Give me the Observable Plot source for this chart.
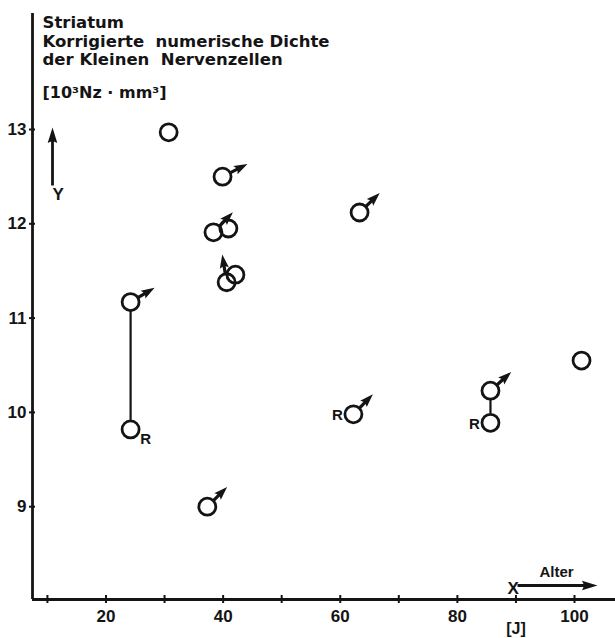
<!DOCTYPE html>
<html>
<head>
<meta charset="utf-8">
<script src="https://cdn.jsdelivr.net/npm/d3@7"></script>
<script src="https://cdn.jsdelivr.net/npm/@observablehq/plot@0.6"></script>
<style>
  html, body { margin: 0; padding: 0; background: #fff; }
</style>
</head>
<body>
<div id="chart"></div>
<script>
// Striatum: corrected numerical density of small nerve cells vs. age
const titleLines = ["Striatum", "Korrigierte  numerische Dichte", "der Kleinen  Nervenzellen", "[10³Nz · mm³]"];

// age in years, density in 10³ cells per mm³
const age     = [30.7, 39.9, 38.35, 40.9, 40.6, 42.1, 24.2, 24.2, 37.3, 63.3, 62.25, 85.65, 85.65, 101.2];
const density = [12.97, 12.50, 11.91, 11.95, 11.38, 11.46, 11.17, 9.82, 9.00, 12.12, 9.98, 10.23, 9.89, 10.55];
// direction of the male-sign arrow (degrees clockwise from north); null = no arrow
const maleArrow = [null, 63, 44, null, -9, null, 59, null, 45, 46, 44, 48, null, null];
// "R" marks
const note = ["", "", "", "", "", "", "", "R", "", "", "R", "", "R", ""];
// paired measurements joined by a vertical line
const pairAge   = [24.2, 85.65];
const pairLow   = [9.82, 9.89];
const pairHigh  = [11.17, 10.23];

const xTicks = [10, 20, 30, 40, 50, 60, 70, 80, 90, 100];
const yTicks = [9, 10, 11, 12, 13];
const xDomain = [7.45, 107];
const yDomain = [8.016, 14.23];

const points = age.map((a, i) => ({age: a, density: density[i], arrow: maleArrow[i], note: note[i]}));
const pairs = pairAge.map((a, i) => ({age: a, low: pairLow[i], high: pairHigh[i]}));

// an arrow pointing up (north) from distance `start` to `start + len` from the anchor, with a filled head
function arrowSymbol(start, len, head, headHalf, shaftHalf) {
  return {
    draw(ctx) {
      const tip = -(start + len), base = tip + head;
      ctx.moveTo(-shaftHalf, -start);
      ctx.lineTo(-shaftHalf, base);
      ctx.lineTo(-headHalf, base + 1.5);
      ctx.lineTo(0, tip);
      ctx.lineTo(headHalf, base + 1.5);
      ctx.lineTo(shaftHalf, base);
      ctx.lineTo(shaftHalf, -start);
      ctx.closePath();
    }
  };
}

const ink = "#141414";
const font = "'DejaVu Sans', sans-serif";
const numFont = "'Liberation Sans', Arial, sans-serif";

const chart = Plot.plot({
  width: 615,
  height: 638,
  marginLeft: 32,
  marginRight: 0,
  marginTop: 13,
  marginBottom: 39,
  x: {domain: xDomain},
  y: {domain: yDomain},
  style: {fontFamily: font, color: ink, background: "#fff"},
  marks: [
    // axis lines
    Plot.ruleX([xDomain[0]], {stroke: ink, strokeWidth: 2.8}),
    Plot.ruleY([yDomain[0]], {stroke: ink, strokeWidth: 2.8}),
    Plot.axisY({ticks: yTicks, anchor: "left", tickSize: 6, dx: 3, tickPadding: 3, label: null,
      tickFormat: d => String(d),
      fontSize: 17, fontWeight: "bold", fontFamily: numFont, strokeWidth: 2}),
    Plot.axisX({ticks: xTicks, anchor: "bottom", tickSize: 8, dy: -4, tickPadding: 6, label: null,
      tickFormat: d => d % 20 === 0 ? String(d) : "",
      fontSize: 17, fontWeight: "bold", fontFamily: numFont, strokeWidth: 2}),
    // unit under the 90 tick
    Plot.text([90], {x: d => d, frameAnchor: "bottom", dy: 34, lineAnchor: "bottom",
      text: () => "[J]", fontSize: 16, fontWeight: "bold", fontFamily: numFont}),
    // axis annotations
    Plot.text(["X"], {frameAnchor: "bottom-left", dx: 475, dy: -6, lineAnchor: "bottom", text: d => d,
      fontSize: 17, fontWeight: "bold", fontFamily: numFont}),
    Plot.text(["Alter"], {frameAnchor: "bottom-left", dx: 507, dy: -23, lineAnchor: "bottom", text: d => d,
      fontSize: 15, fontWeight: "bold", fontFamily: numFont}),
    Plot.dot([0], {frameAnchor: "bottom-left", dx: 485, dy: -14, r: 1, rotate: 90,
      symbol: arrowSymbol(0, 80, 14, 4.8, 1.4), fill: ink, stroke: "none"}),
    Plot.dot([0], {frameAnchor: "top-left", dx: 20, dy: 172, r: 1, rotate: 0,
      symbol: arrowSymbol(0, 58, 14, 4.8, 1.4), fill: ink, stroke: "none"}),
    Plot.text(["Y"], {frameAnchor: "top-left", dx: 20, dy: 174, lineAnchor: "top", text: d => d,
      fontSize: 17, fontWeight: "bold", fontFamily: numFont}),
    // heading
    ...titleLines.map((t, i) => Plot.text([t], {frameAnchor: "top-left", dx: 10, dy: [14, 33, 51, 84][i],
      lineAnchor: "bottom", textAnchor: "start", text: d => d, fontSize: i < 3 ? 16.5 : 16, fontWeight: "bold"})),
    // paired measurements
    Plot.ruleX(pairs, {x: "age", y1: "high", y2: "low", insetTop: 9, insetBottom: 9, stroke: ink, strokeWidth: 2.2}),
    // data rings
    Plot.dot(points, {x: "age", y: "density", r: 8.5, stroke: ink, strokeWidth: 2.8, fill: "none"}),
    // male-sign arrows
    Plot.dot(points.filter(d => d.arrow != null), {x: "age", y: "density", rotate: "arrow", r: 1,
      symbol: arrowSymbol(9, 19, 12, 4.6, 1.6), fill: ink, stroke: "none"}),
    // "R" marks
    Plot.text(points.filter(d => d.note && d.age < 30), {x: "age", y: "density", text: "note", dx: 15, dy: 10,
      fontSize: 15, fontWeight: "bold", fontFamily: numFont}),
    Plot.text(points.filter(d => d.note && d.age >= 30), {x: "age", y: "density", text: "note", dx: -16, dy: 1,
      fontSize: 15, fontWeight: "bold", fontFamily: numFont})
  ]
});

document.getElementById("chart").append(chart);
</script>
</body>
</html>
